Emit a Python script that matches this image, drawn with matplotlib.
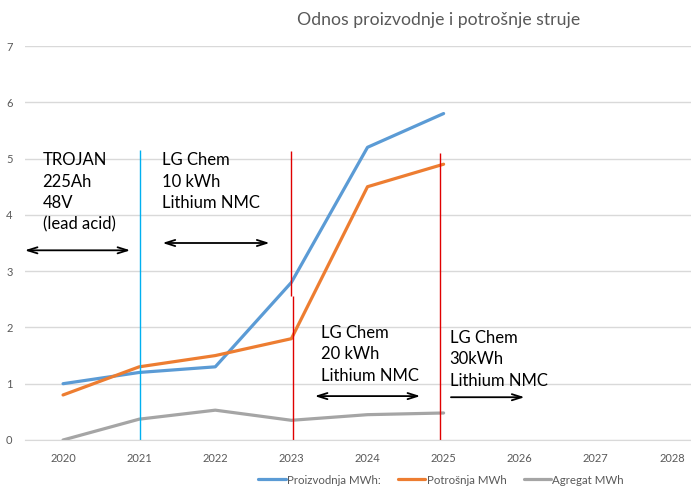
import matplotlib
matplotlib.use("Agg")
import matplotlib.pyplot as plt

years = ["2020", "2021", "2022", "2023", "2024", "2025", "2026", "2027", "2028"]
proizvodnja = [1.0, 1.2, 1.3, 2.8, 5.2, 5.8]
potrosnja = [0.8, 1.3, 1.5, 1.8, 4.5, 4.9]
agregat = [0.0, 0.37, 0.53, 0.35, 0.45, 0.48]
series_names = ["Proizvodnja MWh:", "Potrošnja MWh", "Agregat MWh"]
yticks = [0, 1, 2, 3, 4, 5, 6, 7]

notes = ["TROJAN\n225Ah\n48V\n(lead acid)",
         "LG Chem\n10 kWh\nLithium NMC",
         "LG Chem\n20 kWh\nLithium NMC",
         "LG Chem\n30kWh\nLithium NMC"]

plt.rcParams['font.family'] = ['Lato', 'DejaVu Sans']

fig = plt.figure(figsize=(6.91, 5.03), dpi=100)
ax = fig.add_axes([25/691, 63/503, 685/691, 394/503])

x = list(range(len(years)))
grid_c = "#d9d9d9"
ax.plot(x[:len(proizvodnja)], proizvodnja, color="#5B9BD5", lw=2.3, label=series_names[0], solid_capstyle='round')
ax.plot(x[:len(potrosnja)], potrosnja, color="#ED7D31", lw=2.3, label=series_names[1], solid_capstyle='round')
ax.plot(x[:len(agregat)], agregat, color="#A5A5A5", lw=2.3, label=series_names[2], solid_capstyle='round')

ax.set_xlim(-0.5, len(years) - 0.5)
ax.set_ylim(0, 7)
ax.set_xticks(x)
ax.set_xticklabels(years)
ax.set_yticks(yticks)
ax.yaxis.grid(True, color=grid_c, lw=1)
ax.set_axisbelow(True)
for s in ["top", "right", "left"]:
    ax.spines[s].set_visible(False)
ax.spines["bottom"].set_color(grid_c)
ax.tick_params(axis='both', length=0, colors="#595959", labelsize=8)
ax.tick_params(axis='x', pad=9)
ax.tick_params(axis='y', pad=9)

# vertical markers
ax.vlines(1.01, 0, 5.16, color="#00B0F0", lw=1)
ax.vlines(3.0, 2.55, 5.14, color="#E00000", lw=1)
ax.vlines(3.015, 0, 2.55, color="#E00000", lw=1)
ax.vlines(4.95, 0, 5.1, color="#E00000", lw=1)

# annotations
tkw = dict(fontsize=12, va='top', ha='left', color='black', linespacing=1.4)
ax.text(-0.27, 5.11, notes[0], **tkw)
ax.text(1.30, 5.11, notes[1], **tkw)
ax.text(3.39, 2.04, notes[2], **tkw)
ax.text(5.08, 1.95, notes[3], **tkw)

akw = dict(arrowstyle='<->,head_length=0.7,head_width=0.22', color='black', lw=1.3)
ax.annotate("", xy=(0.92, 3.37), xytext=(-0.54, 3.37), arrowprops=akw, annotation_clip=False)
ax.annotate("", xy=(2.75, 3.50), xytext=(1.27, 3.50), arrowprops=akw)
ax.annotate("", xy=(4.73, 0.78), xytext=(3.27, 0.78), arrowprops=akw)
ax.annotate("", xy=(6.10, 0.76), xytext=(5.06, 0.76),
            arrowprops=dict(arrowstyle='->,head_length=0.7,head_width=0.22', color='black', lw=1.3))

fig.text(439/691, 1 - 20/503, "Odnos proizvodnje i potrošnje struje", ha='center', va='center',
         fontsize=12.7, color="#595959")

leg = fig.legend(loc='center', bbox_to_anchor=(441/691, 1 - 480/503), ncol=3, frameon=False,
                 fontsize=8.3, handlelength=2.4, handletextpad=0.1, columnspacing=1.5)
for t in leg.get_texts():
    t.set_color("#595959")

fig.savefig("out.png", dpi=100)
